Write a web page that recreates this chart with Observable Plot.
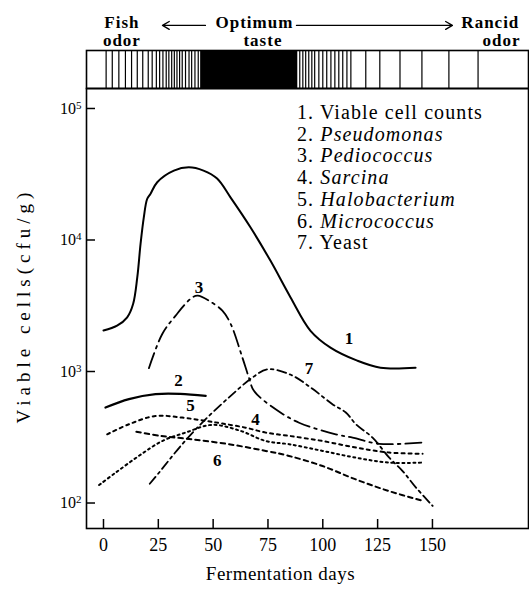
<!DOCTYPE html>
<html><head><meta charset="utf-8">
<script src="https://cdn.jsdelivr.net/npm/d3@7"></script>
<script src="https://cdn.jsdelivr.net/npm/@observablehq/plot@0.6"></script>
<style>
body{margin:0;background:#fff;}
#wrap{position:relative;width:529px;height:590px;overflow:hidden;background:#fff;}
#wrap svg{display:block;}
#legend{position:absolute;left:297px;top:102px;font-family:"Liberation Serif",serif;font-size:20px;line-height:21.7px;letter-spacing:1.1px;color:#000;white-space:nowrap;}
</style></head>
<body><div id="wrap"><div id="legend"></div></div>
<script>
// ---- axis ticks ----
const xTicks = [0, 25, 50, 75, 100, 125, 150];
const yTicks = [100, 1000, 10000, 100000];

// ---- taste / odor strip (fermentation days) ----
const stripLineDays = [1.2, 4.0, 7.0, 10.0, 12.8, 15.4, 17.9, 20.4, 22.2, 24.1, 25.6, 27.1, 28.6, 29.8, 31.1, 32.3, 33.5, 34.7, 35.9, 37.4, 39.0, 40.2, 41.7, 43.2,
  89.5, 90.9, 92.2, 93.6, 95.0, 96.3, 98.2, 100.0, 101.8, 103.7, 105.5, 107.3, 109.1, 111.0, 112.8,
  119.6, 126.0, 135.2, 145.2, 157.5, 170.8];
const optimumStart = 44.3;
const optimumEnd = 88.6;

// ---- series ----
const legendNames = ["Viable cell counts", "Pseudomonas", "Pediococcus", "Sarcina", "Halobacterium", "Micrococcus", "Yeast"];
const legendItalic = [false, true, true, true, true, true, false];

const viableDays = [0, 6.2, 10.8, 13.5, 15.4, 16.9, 18.4, 19.9, 21.4, 24.5, 32.1, 38.9, 45.6, 51.8, 57.9, 67, 76.1, 85.3, 94.4, 103.5, 115.7, 126.3, 142.3];
const viableCells = [2050, 2230, 2580, 3260, 5190, 9330, 14900, 20500, 22400, 27500, 33700, 35700, 33700, 29300, 21100, 12500, 6970, 3660, 2040, 1520, 1210, 1070, 1070];

const pseudomonasDays = [0.9, 11.6, 23.7, 35, 46.6];
const pseudomonasCells = [532, 617, 673, 676, 653];

const pediococcusDays = [20.7, 26.8, 32.9, 40.5, 43, 48.1, 54.2, 58, 63.3, 66.3, 68.6, 78.5, 89.2, 105.9, 113.6, 125.7, 145.5];
const pediococcusCells = [1060, 1930, 2660, 3660, 3770, 3450, 2900, 2300, 1280, 900, 713, 516, 408, 333, 314, 282, 288];

const sarcinaDays = [-2, 5.5, 16.1, 26.8, 37.4, 49.6, 62.6, 74, 84.6, 99.9, 115.1, 130.3, 145.5];
const sarcinaCells = [137, 170, 228, 296, 343, 393, 353, 296, 280, 249, 221, 203, 203];

const halobacteriumDays = [1.7, 11.6, 23.7, 35.9, 46.6, 54.2, 64.8, 74, 84.6, 99.9, 115.1, 130.3, 145.5];
const halobacteriumCells = [333, 397, 459, 446, 421, 402, 374, 343, 324, 296, 264, 242, 237];

const micrococcusDays = [15, 26, 40.5, 57.2, 74, 84.6, 99.9, 115.1, 130.3, 145.5];
const micrococcusCells = [348, 324, 305, 280, 249, 228, 191, 151, 123, 104];

const yeastDays = [21.1, 25.3, 35.9, 45.8, 58, 67.9, 74.7, 85.4, 95.3, 104.4, 110.5, 115.1, 122.7, 130.3, 136.4, 142.5, 150.1];
const yeastCells = [140, 170, 280, 421, 653, 899, 1040, 944, 738, 564, 488, 397, 314, 221, 175, 131, 95];

// curve number labels
const curveLabels = ["1", "2", "3", "4", "5", "6", "7"];
const curveLabelDays = [112, 34.2, 43.5, 69.3, 39.7, 51.9, 93.7];
const curveLabelCells = [1775, 855, 4375, 430, 551, 210, 1050];

// ---- build ----
const W = 529;
const xDomain = [-7.75, 193.8];
const font = "Liberation Serif";

const seriesSpec = [
  {days: viableDays, cells: viableCells, dash: null, sw: 2},
  {days: pseudomonasDays, cells: pseudomonasCells, dash: null, sw: 2.2},
  {days: pediococcusDays, cells: pediococcusCells, dash: "16,5,2.5,5", sw: 1.8},
  {days: sarcinaDays, cells: sarcinaCells, dash: "2,3.5", sw: 2},
  {days: halobacteriumDays, cells: halobacteriumCells, dash: "3,4", sw: 2},
  {days: micrococcusDays, cells: micrococcusCells, dash: "4.5,4", sw: 2},
  {days: yeastDays, cells: yeastCells, dash: "9,4,2.5,4", sw: 1.8}
];

const lineMarks = seriesSpec.map(s => {
  const data = s.days.map((d, i) => ({day: d, cells: s.cells[i]}));
  const o = {x: "day", y: "cells", stroke: "black", strokeWidth: s.sw, curve: "catmull-rom"};
  if (s.dash) o.strokeDasharray = s.dash;
  return Plot.line(data, o);
});

const labelData = curveLabels.map((t, i) => ({t, day: curveLabelDays[i], cells: curveLabelCells[i]}));

const supFormat = d => "10^" + Math.round(Math.log10(d));

// top strip
const topPlot = Plot.plot({
  width: W, height: 88, marginLeft: 86, marginRight: 1, marginTop: 50, marginBottom: 0,
  x: {domain: xDomain, axis: null},
  y: {domain: [0, 1], axis: null},
  style: {fontFamily: font, background: "white", overflow: "visible", color: "black"},
  marks: [
    Plot.rect([{a: optimumStart, b: optimumEnd}], {x1: "a", x2: "b", y1: 0, y2: 1, fill: "black"}),
    Plot.ruleX(stripLineDays, {x: d => d, y1: 0, y2: 1, stroke: "black", strokeWidth: 1.2}),
    Plot.frame({stroke: "black", strokeWidth: 1.6}),
    Plot.text([
      {w: "Fish", d: 8.4, r: 1.737}, {w: "odor", d: 8.4, r: 1.263},
      {w: "Optimum", d: 68.8, r: 1.737}, {w: "taste", d: 72.7, r: 1.263},
      {w: "Rancid", d: 176.4, r: 1.737}, {w: "odor", d: 181.5, r: 1.263}
    ], {x: "d", y: "r", text: "w", fontSize: 17, fontWeight: "bold", fill: "black"}),
    Plot.arrow([{a: 46.5, b: 26.9}, {a: 88.0, b: 159.1}], {x1: "a", x2: "b", y1: 1.66, y2: 1.66, stroke: "black", strokeWidth: 1.3, headLength: 9})
  ]
});

const mainPlot = Plot.plot({
  width: W, height: 502, marginLeft: 86, marginRight: 1, marginTop: 0, marginBottom: 62,
  x: {domain: xDomain},
  y: {type: "log", domain: [64, 141900]},
  style: {fontFamily: font, background: "white", overflow: "visible", color: "black"},
  marks: [
    Plot.frame({stroke: "black", strokeWidth: 1.6}),
    Plot.axisY({ticks: yTicks, tickSize: 0, tickPadding: 5, tickFormat: supFormat, fontSize: 16, label: null}),
    Plot.tickY(yTicks, {y: d => d, insetRight: 433, stroke: "black", strokeWidth: 1.5}),
    Plot.axisX({ticks: xTicks, tickSize: 0, tickPadding: 10, fontSize: 18, label: null}),
    Plot.tickX(xTicks, {x: d => d, insetTop: 431, stroke: "black", strokeWidth: 1.5}),
    ...lineMarks,
    Plot.text(labelData, {x: "day", y: "cells", text: "t", fontSize: 17, fontWeight: "bold", fill: "black"}),
    Plot.text(["Viable cells(cfu/g)"], {frameAnchor: "left", textAnchor: "middle", lineAnchor: "middle", rotate: -90, dx: -63, dy: -3, fontSize: 19, fill: "black"}),
    Plot.text(["Fermentation days"], {frameAnchor: "bottom", textAnchor: "middle", lineAnchor: "middle", dx: -27, dy: 45, fontSize: 19, fill: "black"})
  ]
});

d3.select(mainPlot).selectAll("text").each(function() {
  const t = this.textContent;
  if (t === "Viable cells(cfu/g)") this.setAttribute("letter-spacing", "5px");
  if (t === "Fermentation days") this.setAttribute("letter-spacing", "0.5px");
  if (/^10\^\d$/.test(t)) {
    const exp = t.slice(3);
    const sel = d3.select(this);
    sel.text("10");
    sel.append("tspan").attr("dy", "-0.45em").attr("font-size", "11px").text(exp);
  }
});
d3.select(topPlot).selectAll("text").attr("letter-spacing", "1px");

const wrap = document.getElementById("wrap");
wrap.insertBefore(mainPlot, wrap.firstChild);
wrap.insertBefore(topPlot, wrap.firstChild);

// legend
const legend = d3.select("#legend");
legendNames.forEach((n, i) => {
  const row = legend.append("div");
  row.append("span").text((i + 1) + ". ");
  if (legendItalic[i]) row.append("i").text(n); else row.append("span").text(n);
});
</script>
</body></html>
